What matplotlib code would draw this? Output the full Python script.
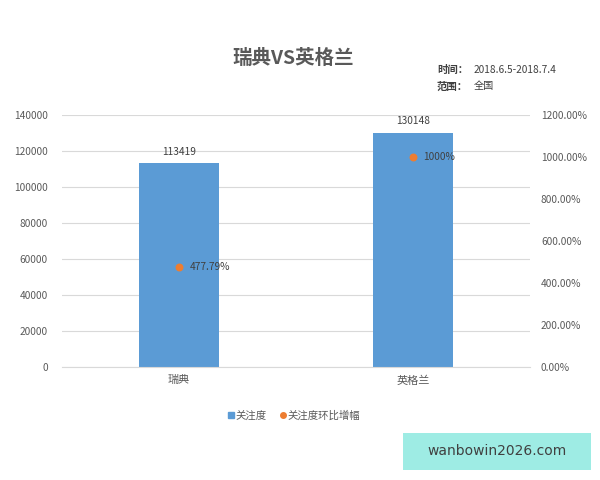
import matplotlib
matplotlib.use('Agg')
import matplotlib.pyplot as plt
from matplotlib.patches import Rectangle
from matplotlib.lines import Line2D

plt.rcParams['font.family'] = ['Noto Sans CJK SC', 'DejaVu Sans']

categories = ['瑞典', '英格兰']
attention = [113419, 130148]
growth = [477.79, 1000.0]
growth_labels = ['477.79%', '1000%']

bar_color = '#5B9BD5'
dot_color = '#ED7D31'
text_color = '#595959'

fig = plt.figure(figsize=(6, 4.8), dpi=100)
ax = fig.add_axes([0.103, 0.2354, 0.78, 0.525])
ax2 = ax.twinx()

x = list(range(len(categories)))
ax.bar(x, attention, width=0.34, color=bar_color, zorder=2)
for xi, v in zip(x, attention):
    ax.text(xi, v + 3500, str(v), ha='center', va='bottom', fontsize=7.3, color='#404040')

ax.set_xlim(-0.5, 1.5)
ax.set_ylim(0, 140000)
ax.set_yticks(range(0, 140001, 20000))
ax.set_xticks(x)
ax.set_xticklabels(categories, fontsize=8, color=text_color)
ax.grid(axis='y', color='#D9D9D9', linewidth=0.8, zorder=0)
ax.tick_params(axis='y', length=0, labelsize=7.3, labelcolor=text_color, pad=10)
ax.tick_params(axis='x', length=0, pad=6)
for s in ['top', 'right', 'left']:
    ax.spines[s].set_visible(False)
ax.spines['bottom'].set_color('#D9D9D9')

ax2.scatter(x, growth, s=22, color=dot_color, zorder=3)
for xi, v, lab in zip(x, growth, growth_labels):
    ax2.text(xi + 0.045, v, lab, ha='left', va='center', fontsize=7.3, color='#404040')
ax2.set_ylim(0, 1200)
ax2.set_yticks(range(0, 1201, 200))
ax2.set_yticklabels(['%.2f%%' % t for t in range(0, 1201, 200)])
ax2.tick_params(axis='y', length=0, labelsize=7.3, labelcolor=text_color, pad=8)
for s in ['top', 'right', 'left', 'bottom']:
    ax2.spines[s].set_visible(False)

fig.text(0.488, 0.878, '瑞典VS英格兰', ha='center', va='center', fontsize=14,
         fontweight='bold', color=text_color)
fig.text(0.728, 0.855, '时间：', ha='left', va='center', fontsize=7.5, fontweight='bold', color='#404040')
fig.text(0.79, 0.855, '2018.6.5-2018.7.4', ha='left', va='center', fontsize=7.3, color='#404040')
fig.text(0.728, 0.82, '范围：', ha='left', va='center', fontsize=7.5, fontweight='bold', color='#404040')
fig.text(0.79, 0.82, '全国', ha='left', va='center', fontsize=7.3, color='#404040')

handles = [Line2D([], [], marker='s', linestyle='', color=bar_color, markersize=4),
           Line2D([], [], marker='o', linestyle='', color=dot_color, markersize=4)]
fig.legend(handles, ['关注度', '关注度环比增幅'], loc='center', bbox_to_anchor=(0.49, 0.135),
           ncol=2, frameon=False, fontsize=7.5, handlelength=0.6, handletextpad=0.2,
           columnspacing=1.2, labelcolor=text_color)

fig.patches.append(Rectangle((0.672, 0.021), 0.313, 0.077, transform=fig.transFigure,
                             facecolor='#9EECE4', edgecolor='none'))
fig.text(0.828, 0.06, 'wanbowin2026.com', ha='center', va='center', fontsize=10,
         color='#404040', family='DejaVu Sans')

fig.savefig('out.png', dpi=100)
